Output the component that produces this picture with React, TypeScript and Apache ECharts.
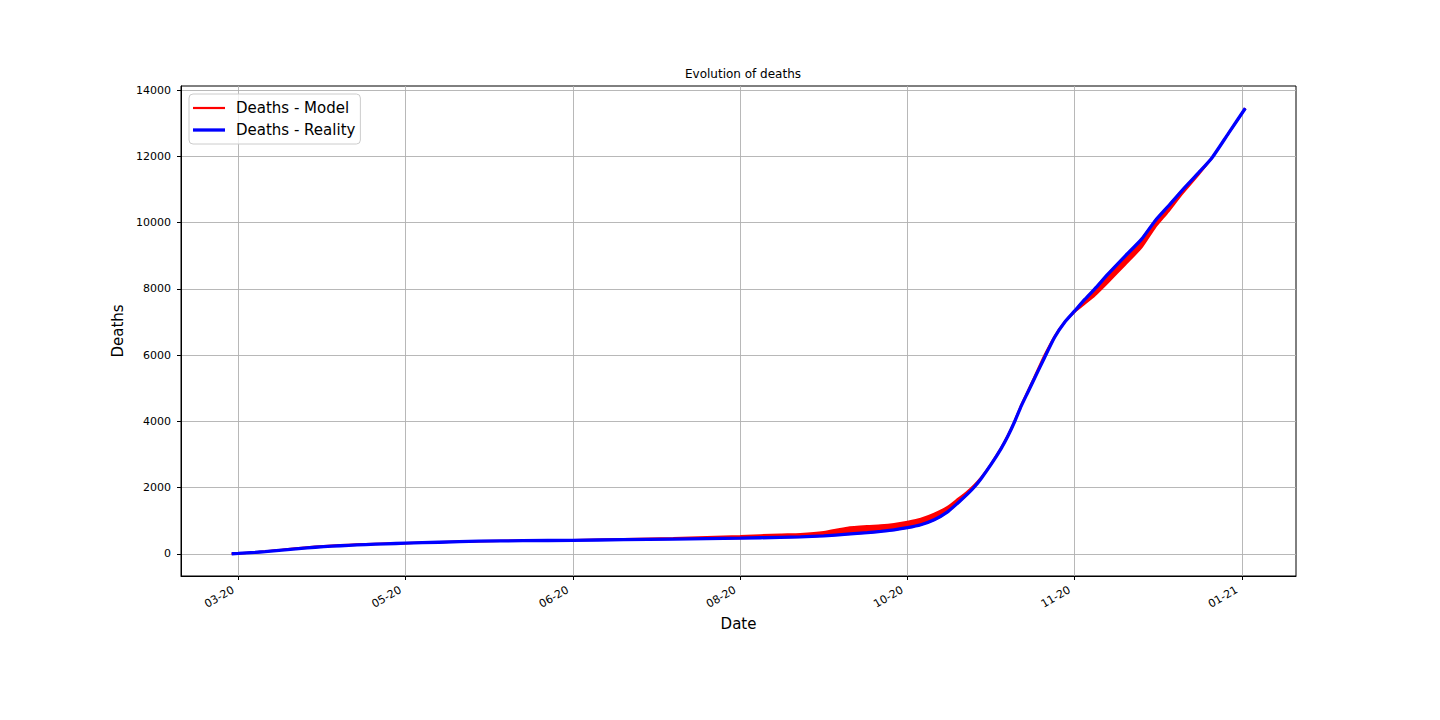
import React, { useEffect, useRef } from "react";
import * as echarts from "echarts";

// Sample dates (daily series at these dates)
const dates = [
  "2020-03-13", "2020-03-15", "2020-03-20", "2020-03-23", "2020-03-28", "2020-04-02",
  "2020-04-07", "2020-04-12", "2020-04-17", "2020-04-22", "2020-04-28", "2020-05-04",
  "2020-05-14", "2020-05-26", "2020-06-08", "2020-06-23", "2020-07-08", "2020-07-23",
  "2020-08-12", "2020-08-24", "2020-08-30", "2020-09-06", "2020-09-13", "2020-09-19",
  "2020-09-23", "2020-09-27", "2020-10-01", "2020-10-05", "2020-10-09", "2020-10-13",
  "2020-10-16", "2020-10-19", "2020-10-21", "2020-10-23", "2020-10-26", "2020-10-29",
  "2020-10-31", "2020-11-02", "2020-11-04", "2020-11-06", "2020-11-08", "2020-11-11",
  "2020-11-14", "2020-11-17", "2020-11-20", "2020-11-23", "2020-11-26", "2020-11-30",
  "2020-12-05", "2020-12-10", "2020-12-14", "2020-12-18", "2020-12-22", "2020-12-27",
  "2020-12-31", "2021-01-05", "2021-01-10",
];

const deathsReality = [
  5, 15, 45, 70, 115, 160,
  200, 232, 260, 282, 303, 323,
  352, 383, 398, 410, 428, 448,
  474, 500, 512, 545, 595, 640,
  680, 725, 790, 880, 1030, 1270,
  1530, 1810, 2020, 2270, 2700, 3180,
  3550, 3980, 4460, 4880, 5300, 5930,
  6540, 6990, 7333, 7680, 8000, 8450,
  8980, 9500, 10050, 10500, 10960, 11500,
  11950, 12700, 13450,
];

// Model: upper and lower envelope of the (jagged) red curve
const deathsModelUpper = [
  5, 15, 48, 75, 125, 175,
  218, 250, 275, 295, 312, 328,
  355, 385, 402, 420, 450, 480,
  540, 585, 600, 660, 790, 840,
  860, 900, 970, 1060, 1210, 1420,
  1650, 1890, 2080, 2300, 2720, 3200,
  3570, 4000, 4490, 4920, 5350, 6000,
  6570, 7000, 7333, 7680, 8000, 8450,
  8980, 9500, 10050, 10500, 10960, 11500,
  11950, 12700, 13450,
];

const deathsModelLower = [
  5, 15, 45, 70, 115, 160,
  200, 232, 260, 282, 303, 323,
  352, 383, 398, 410, 428, 448,
  474, 500, 512, 545, 595, 640,
  680, 725, 790, 880, 1030, 1270,
  1530, 1810, 2020, 2270, 2700, 3180,
  3550, 3980, 4460, 4880, 5300, 5930,
  6540, 6990, 7300, 7550, 7800, 8200,
  8720, 9250, 9850, 10330, 10850, 11440,
  11950, 12700, 13450,
];

const xTickDates = [
  "2020-03-15", "2020-05-04", "2020-06-23", "2020-08-12",
  "2020-10-01", "2020-11-20", "2021-01-09",
];
const yTicks = [0, 2000, 4000, 6000, 8000, 10000, 12000, 14000];

const DAY = 86400000;
const ORIGIN = Date.UTC(2020, 2, 15);
const toDay = (s: string) => {
  const [y, m, d] = s.split("-").map(Number);
  return Math.round((Date.UTC(y, m - 1, d) - ORIGIN) / DAY);
};
const fmtTick = (v: number) => {
  const dt = new Date(ORIGIN + Math.round(v) * DAY);
  const mm = String(dt.getUTCMonth() + 1).padStart(2, "0");
  const yy = String(dt.getUTCFullYear() % 100).padStart(2, "0");
  return `${mm}-${yy}`;
};

const FONT = "DejaVu Sans";

export default function App() {
  const ref = useRef<HTMLDivElement>(null);
  useEffect(() => {
    document.body.style.margin = "0";
    if (!ref.current) return;
    const chart = echarts.init(ref.current, undefined, { renderer: "svg" });

    const days = dates.map(toDay);
    const xSpan = days[days.length - 1] - days[0];
    const xMin = days[0] - 0.05 * xSpan;
    const xMax = days[days.length - 1] + 0.05 * xSpan;
    const allY = [...deathsReality, ...deathsModelUpper, ...deathsModelLower];
    const yLo = Math.min(...allY);
    const yHi = Math.max(...allY);
    const ySpan = yHi - yLo;
    const yMin = yLo - 0.05 * ySpan;
    const yMax = yHi + 0.05 * ySpan;

    const red = "#ff0000";
    const blue = "#0000ff";
    const xTicks = xTickDates.map(toDay);

    const bandData = days.map((d, i) => [d, deathsModelUpper[i], deathsModelLower[i]]);

    chart.setOption({
      animation: false,
      backgroundColor: "#ffffff",
      textStyle: { fontFamily: FONT },
      title: {
        text: "Evolution of deaths",
        left: 738,
        top: 63,
        textAlign: "center",
        textStyle: { fontFamily: FONT, fontSize: 12, fontWeight: "normal", color: "#000" },
      },
      legend: {
        data: [
          { name: "Deaths - Model", icon: "path://M0,0H32V2.2H0Z" },
          { name: "Deaths - Reality", icon: "path://M0,0H32V3.3H0Z" },
        ],
        orient: "vertical",
        left: 189,
        top: 94,
        padding: [5, 5, 5, 4],
        itemWidth: 32,
        itemHeight: 4,
        itemGap: 4,
        backgroundColor: "rgba(255,255,255,0.8)",
        borderColor: "#cccccc",
        borderWidth: 1,
        borderRadius: 4,
        textStyle: {
          fontFamily: FONT,
          fontSize: 15,
          color: "#000",
          padding: [0, 0, 0, 6],
          lineHeight: 18,
        },
      },
      grid: {
        left: 181,
        right: 144,
        top: 86,
        bottom: 144,
        containLabel: false,
        show: true,
        borderColor: "#000",
        borderWidth: 1,
        backgroundColor: "transparent",
      },
      xAxis: {
        type: "value",
        min: xMin,
        max: xMax,
        name: "Date",
        nameLocation: "middle",
        nameGap: 39,
        nameTextStyle: { fontFamily: FONT, fontSize: 15, color: "#000" },
        axisLine: { show: true, onZero: false, lineStyle: { color: "#000", width: 1 } },
        axisTick: {
          show: true,
          length: 4,
          inside: false,
          customValues: xTicks,
          lineStyle: { color: "#000", width: 1 },
        },
        axisLabel: {
          customValues: xTicks,
          formatter: (v: number) => fmtTick(v),
          rotate: 30,
          margin: 10,
          padding: [0, 6, 0, 0],
          fontFamily: FONT,
          fontSize: 11,
          color: "#000",
          hideOverlap: false,
        },
        splitLine: { show: true, lineStyle: { color: "#b0b0b0", width: 0.9 } },
      },
      yAxis: {
        type: "value",
        min: yMin,
        max: yMax,
        name: "Deaths",
        nameLocation: "middle",
        nameGap: 50,
        nameTextStyle: { fontFamily: FONT, fontSize: 15, color: "#000" },
        axisLine: { show: true, onZero: false, lineStyle: { color: "#000", width: 1 } },
        axisTick: {
          show: true,
          length: 4,
          inside: false,
          customValues: yTicks,
          lineStyle: { color: "#000", width: 1 },
        },
        axisLabel: {
          customValues: yTicks,
          formatter: (v: number) => String(v),
          margin: 10,
          fontFamily: FONT,
          fontSize: 11,
          color: "#000",
        },
        splitLine: { show: true, lineStyle: { color: "#b0b0b0", width: 0.9 } },
      },
      series: [
        {
          name: "model-band",
          type: "custom",
          data: bandData,
          encode: { x: 0, y: [1, 2] },
          z: 2,
          silent: true,
          renderItem: (params: any, api: any) => {
            if (params.dataIndex !== 0) return null;
            const upper = bandData.map((r) => api.coord([r[0], r[1]]));
            const lower = bandData.map((r) => api.coord([r[0], r[2]])).reverse();
            return {
              type: "polygon",
              shape: { points: upper.concat(lower) },
              style: { fill: red, stroke: "none" },
            };
          },
        },
        {
          name: "model-lower",
          type: "line",
          symbol: "none",
          smooth: 0.2,
          data: days.map((d, i) => [d, deathsModelLower[i]]),
          lineStyle: { color: red, width: 2 },
          itemStyle: { color: red },
          z: 2,
        },
        {
          name: "Deaths - Model",
          type: "line",
          symbol: "none",
          smooth: 0.2,
          data: days.map((d, i) => [d, deathsModelUpper[i]]),
          lineStyle: { color: red, width: 2.2 },
          itemStyle: { color: red },
          z: 2,
        },
        {
          name: "Deaths - Reality",
          type: "line",
          symbol: "none",
          smooth: 0.2,
          data: days.map((d, i) => [d, deathsReality[i]]),
          lineStyle: { color: blue, width: 3.3 },
          itemStyle: { color: blue },
          z: 3,
        },
      ],
    });
    return () => chart.dispose();
  }, []);
  return <div ref={ref} style={{ width: 1440, height: 720 }} />;
}
